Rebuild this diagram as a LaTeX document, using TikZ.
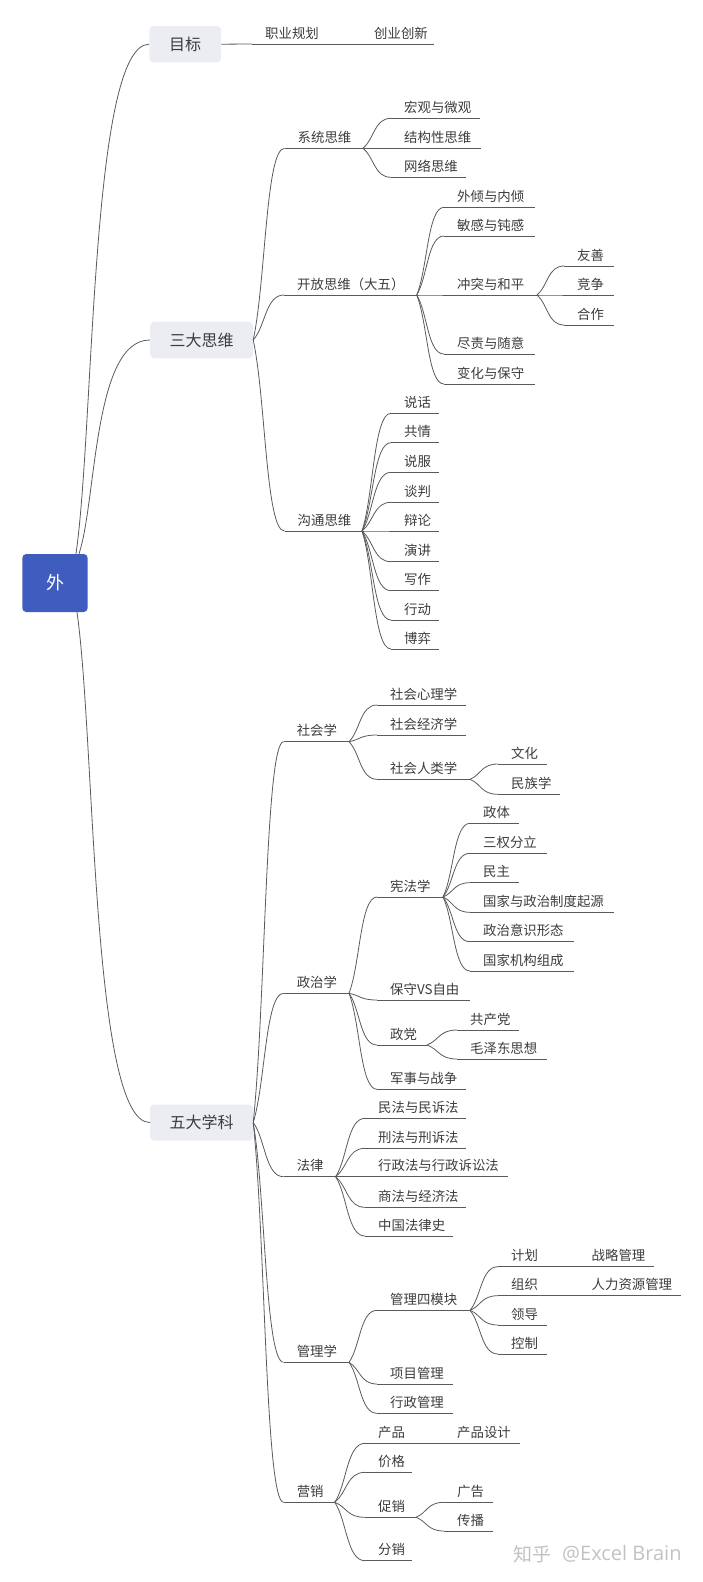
\documentclass[tikz,border=0pt]{standalone}
\usepackage{fontspec}
\setmainfont{Noto Sans CJK SC}
\newfontfamily\wmlatin{Open Sans}
\usetikzlibrary{calc}
\definecolor{txt}{HTML}{3C3C3C}
\definecolor{ln}{HTML}{5A5A5A}
\definecolor{boxfill}{HTML}{ECEDF3}
\definecolor{rootfill}{HTML}{3F5DBF}
\definecolor{wmcol}{HTML}{C2C2C2}
\tikzset{
  topictext/.style={inner sep=0pt, anchor=base west, font=\fontsize{13.4}{16}\selectfont, text=txt},
  uline/.style={draw=ln, line width=0.8pt},
  conn/.style={draw=ln, line width=0.8pt},
  mainbox/.style={rounded corners=4pt, fill=boxfill, inner sep=0pt, font=\fontsize{16}{19}\selectfont, text=txt},
  rootbox/.style={rounded corners=4pt, fill=rootfill, text=white, inner sep=0pt, font=\fontsize{18}{21}\selectfont},
  wmtext/.style={inner sep=0pt, anchor=west, text=wmcol},
}
% name, text x, underline end x, underline y, text
\newcommand\mmtopic[5]{%
  \coordinate (#1-w) at ({#2-13},#4);
  \coordinate (#1-e) at (#3,#4);
  \node[topictext] (#1) at (#2,{#4-6}) {#5};
  \draw[uline] (#1-w) -- (#1-e);
}
% a, b, c, from, to
\newcommand\mmlink[5]{%
  \draw[conn] let \p1=(#4), \p2=(#5) in (\p1) .. controls ({\x1+#1*(\x2-\x1)},{\y1+#2*(\y2-\y1)}) and ({\x1+#3*(\x2-\x1)},\y2) .. (\p2);
}
\newcommand\fan[2]{\mmlink{0.4}{0.3}{0.4}{#1}{#2}}
\newcommand\rootlink[2]{\mmlink{0.25}{0.25}{0.2}{#1}{#2}}
\newcommand\straight[2]{\draw[conn] (#1) -- (#2);}

\begin{document}
\begin{tikzpicture}[x=1pt,y=-1pt]
\useasboundingbox (0,0) rectangle (702,1582);

% root
\node[rootbox, minimum width=65.4pt, minimum height=58pt] (root) at (55,583) {外};
\coordinate (root-n1) at ([xshift=21pt]root.north);
\coordinate (root-n2) at ([xshift=24pt]root.north);
\coordinate (root-s) at ([xshift=22pt]root.south);

% main boxes
\node[mainbox, minimum width=71.7pt, minimum height=36.3pt] (mb1) at (185.2,44.2) {目标};
\node[mainbox, minimum width=103pt, minimum height=36.6pt] (mb2) at (201.5,340) {三大思维};
\node[mainbox, minimum width=103pt, minimum height=36pt] (mb3) at (201.5,1122.5) {五大学科};

\rootlink{root-n1}{mb1.west}
\rootlink{root-n2}{mb2.west}
\rootlink{root-s}{mb3.west}

% 目标
\mmtopic{zy}{265}{330}{44}{职业规划}
\mmtopic{cy}{374}{434}{44}{创业创新}
\straight{mb1.east}{zy-w}
\straight{zy-e}{cy-w}

% 三大思维
\mmtopic{xt}{297.5}{363}{148.3}{系统思维}
\mmtopic{hg}{404}{480}{118.3}{宏观与微观}
\mmtopic{jgx}{404}{481}{148.3}{结构性思维}
\mmtopic{wl}{404}{466}{177.3}{网络思维}
\fan{mb2.east}{xt-w}
\fan{xt-e}{hg-w}
\fan{xt-e}{jgx-w}
\fan{xt-e}{wl-w}

\mmtopic{kf}{297}{416.7}{295}{开放思维（大五）}
\mmtopic{wq}{457}{535}{207.3}{外倾与内倾}
\mmtopic{mg}{457}{535}{236}{敏感与钝感}
\mmtopic{ct}{457}{537}{295}{冲突与和平}
\mmtopic{ysh}{577}{614}{266}{友善}
\mmtopic{jzh}{577}{614}{295}{竞争}
\mmtopic{hz}{577}{614}{325}{合作}
\mmtopic{jzr}{457}{535}{354}{尽责与随意}
\mmtopic{bh}{457}{535}{384}{变化与保守}
\fan{mb2.east}{kf-w}
\fan{kf-e}{wq-w}
\fan{kf-e}{mg-w}
\fan{kf-e}{ct-w}
\fan{kf-e}{jzr-w}
\fan{kf-e}{bh-w}
\fan{ct-e}{ysh-w}
\fan{ct-e}{jzh-w}
\fan{ct-e}{hz-w}

\mmtopic{gt}{297.5}{362}{531}{沟通思维}
\mmtopic{gt1}{404}{439}{413.3}{说话}
\mmtopic{gt2}{404}{439}{442.7}{共情}
\mmtopic{gt3}{404}{439}{472.3}{说服}
\mmtopic{gt4}{404}{439}{502.3}{谈判}
\mmtopic{gt5}{404}{439}{531}{辩论}
\mmtopic{gt6}{404}{439}{561.7}{演讲}
\mmtopic{gt7}{404}{439}{590.7}{写作}
\mmtopic{gt8}{404}{439}{620}{行动}
\mmtopic{gt9}{404}{439}{649}{博弈}
\fan{mb2.east}{gt-w}
\foreach \i in {1,...,9}{\fan{gt-e}{gt\i-w}}

% 五大学科 : 社会学
\mmtopic{sh}{296.6}{349}{741.7}{社会学}
\mmtopic{sx}{390}{466}{705}{社会心理学}
\mmtopic{sj}{390}{466}{735}{社会经济学}
\mmtopic{sr}{390}{470}{779.3}{社会人类学}
\mmtopic{wh}{511}{547}{764}{文化}
\mmtopic{mzx}{511}{560}{794.3}{民族学}
\fan{mb3.east}{sh-w}
\fan{sh-e}{sx-w}
\fan{sh-e}{sj-w}
\fan{sh-e}{sr-w}
\fan{sr-e}{wh-w}
\fan{sr-e}{mzx-w}

% 政治学
\mmtopic{zz}{296.6}{349}{993.3}{政治学}
\mmtopic{xf}{390}{443}{897}{宪法学}
\mmtopic{zt}{483}{519}{823.3}{政体}
\mmtopic{sq}{483}{547}{853.3}{三权分立}
\mmtopic{mzh}{483}{519}{882.7}{民主}
\mmtopic{gjz}{483}{614}{912.3}{国家与政治制度起源}
\mmtopic{ysx}{483}{573.6}{941.7}{政治意识形态}
\mmtopic{gjj}{483}{573.6}{971}{国家机构组成}
\mmtopic{bs}{390}{470}{1000}{保守VS自由}
\mmtopic{zd}{390}{427}{1045}{政党}
\mmtopic{gcd}{470}{519}{1030}{共产党}
\mmtopic{mx}{470}{547}{1059}{毛泽东思想}
\mmtopic{js}{390}{466}{1089.3}{军事与战争}
\fan{mb3.east}{zz-w}
\fan{zz-e}{xf-w}
\fan{zz-e}{bs-w}
\fan{zz-e}{zd-w}
\fan{zz-e}{js-w}
\fan{xf-e}{zt-w}
\fan{xf-e}{sq-w}
\fan{xf-e}{mzh-w}
\fan{xf-e}{gjz-w}
\fan{xf-e}{ysx-w}
\fan{xf-e}{gjj-w}
\fan{zd-e}{gcd-w}
\fan{zd-e}{mx-w}

% 法律
\mmtopic{fl}{296.6}{335.6}{1176.7}{法律}
\mmtopic{fl1}{378}{466}{1118.3}{民法与民诉法}
\mmtopic{fl2}{378}{466}{1148.3}{刑法与刑诉法}
\mmtopic{fl3}{378}{508}{1176.7}{行政法与行政诉讼法}
\mmtopic{fl4}{378}{466}{1207.3}{商法与经济法}
\mmtopic{fl5}{378}{453}{1236}{中国法律史}
\fan{mb3.east}{fl-w}
\foreach \i in {1,...,5}{\fan{fl-e}{fl\i-w}}

% 管理学
\mmtopic{gl}{296.6}{349}{1362.3}{管理学}
\mmtopic{gm}{390}{470}{1310.3}{管理四模块}
\mmtopic{jh}{511}{548}{1266.7}{计划}
\mmtopic{zl}{591.5}{654}{1266.7}{战略管理}
\mmtopic{zzh}{511}{548}{1295.7}{组织}
\mmtopic{rl}{591.5}{681}{1295.7}{人力资源管理}
\mmtopic{ld}{511}{547}{1325}{领导}
\mmtopic{kz}{511}{547}{1354}{控制}
\mmtopic{xm}{390}{453}{1384}{项目管理}
\mmtopic{xz}{390}{453}{1413.3}{行政管理}
\fan{mb3.east}{gl-w}
\fan{gl-e}{gm-w}
\fan{gl-e}{xm-w}
\fan{gl-e}{xz-w}
\fan{gm-e}{jh-w}
\fan{gm-e}{zzh-w}
\fan{gm-e}{ld-w}
\fan{gm-e}{kz-w}
\straight{jh-e}{zl-w}
\straight{zzh-e}{rl-w}

% 营销
\mmtopic{yx}{296.6}{334.7}{1502.3}{营销}
\mmtopic{cp}{378}{414}{1443.3}{产品}
\mmtopic{cpsj}{457}{520}{1443.3}{产品设计}
\mmtopic{jg}{378}{411.6}{1472.3}{价格}
\mmtopic{cx}{378}{416}{1517.3}{促销}
\mmtopic{gg}{457}{493}{1502.3}{广告}
\mmtopic{cb}{457}{493}{1531}{传播}
\mmtopic{fx}{378}{411.6}{1560.7}{分销}
\fan{mb3.east}{yx-w}
\fan{yx-e}{cp-w}
\fan{yx-e}{jg-w}
\fan{yx-e}{cx-w}
\fan{yx-e}{fx-w}
\straight{cp-e}{cpsj-w}
\fan{cx-e}{gg-w}
\fan{cx-e}{cb-w}

% watermark
\node[wmtext, font=\fontsize{19}{22}\selectfont] (wm1) at (513,1554) {知乎};
\node[wmtext, font=\wmlatin\fontsize{20}{23}\selectfont] (wm2) at (562,1554) {@Excel Brain};
\end{tikzpicture}
\end{document}
